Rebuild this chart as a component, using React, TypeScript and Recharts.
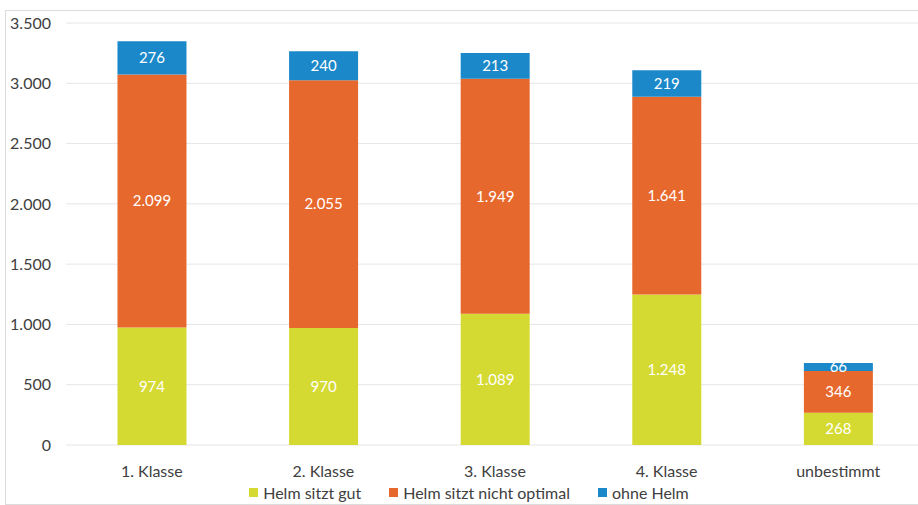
import React from 'react';
import { BarChart, Bar, XAxis, YAxis, CartesianGrid, Legend, LabelList } from 'recharts';

const classes = ['1. Klasse', '2. Klasse', '3. Klasse', '4. Klasse', 'unbestimmt'];
const helmGut = [974, 970, 1089, 1248, 268];
const helmNichtOptimal = [2099, 2055, 1949, 1641, 346];
const ohneHelm = [276, 240, 213, 219, 66];
const yTicks = [0, 500, 1000, 1500, 2000, 2500, 3000, 3500];

const data = classes.map((name, i) => ({
  name,
  gut: helmGut[i],
  nichtOptimal: helmNichtOptimal[i],
  ohne: ohneHelm[i],
}));

const fmt = (v: number) => String(v).replace(/\B(?=(\d{3})+(?!\d))/g, '.');

const labelStyle = { fill: '#ffffff', fontSize: 15 };

const renderLegend = (props: any) => {
  const { payload = [] } = props;
  return (
    <div style={{ display: 'flex', justifyContent: 'center', gap: 28, paddingLeft: 14, fontSize: 16, color: '#404040' }}>
      {payload.map((entry: any) => (
        <div key={entry.value} style={{ display: 'flex', alignItems: 'center', gap: 5 }}>
          <span style={{ display: 'inline-block', width: 9, height: 9, background: entry.color }} />
          <span>{entry.value}</span>
        </div>
      ))}
    </div>
  );
};

export default function App() {
  return (
    <div
      style={{
        position: 'absolute',
        left: 0,
        top: 0,
        width: 918,
        height: 505,
        overflow: 'hidden',
        background: '#fff',
        fontFamily: 'Lato, "Open Sans", sans-serif',
      }}
    >
      <div
        style={{
          position: 'absolute',
          left: 5,
          top: 10,
          width: 930,
          height: 493,
          border: '1px solid #dcdcdc',
        }}
      />
      <BarChart
        width={926}
        height={505}
        data={data}
        margin={{ top: 23, right: 2, left: 0, bottom: 0 }}
        barCategoryGap="30%"
      >
        <CartesianGrid vertical={false} stroke="#e6e6e6" />
        <XAxis
          dataKey="name"
          height={38}
          tickLine={false}
          axisLine={false}
          tickMargin={15}
          tick={{ fill: '#404040', fontSize: 16 }}
        />
        <YAxis
          width={66}
          domain={[0, 3500]}
          ticks={yTicks}
          tickFormatter={fmt}
          tickLine={false}
          axisLine={false}
          tickSize={0}
          tickMargin={15}
          tick={{ fill: '#404040', fontSize: 16 }}
        />
        <Legend verticalAlign="bottom" height={22} content={renderLegend} />
        <Bar dataKey="gut" name="Helm sitzt gut" stackId="a" fill="#d5da32" isAnimationActive={false}>
          <LabelList dataKey="gut" position="center" formatter={fmt} style={labelStyle} />
        </Bar>
        <Bar dataKey="nichtOptimal" name="Helm sitzt nicht optimal" stackId="a" fill="#e7682d" isAnimationActive={false}>
          <LabelList dataKey="nichtOptimal" position="center" formatter={fmt} style={labelStyle} />
        </Bar>
        <Bar dataKey="ohne" name="ohne Helm" stackId="a" fill="#1a88c9" isAnimationActive={false}>
          <LabelList dataKey="ohne" position="center" formatter={fmt} style={labelStyle} />
        </Bar>
      </BarChart>
    </div>
  );
}
